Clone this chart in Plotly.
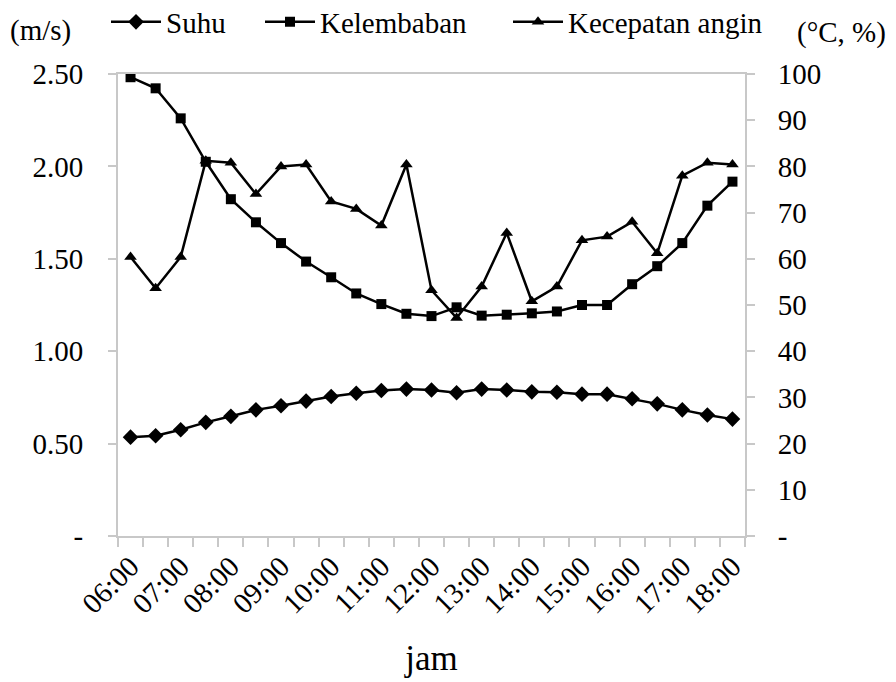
import plotly.graph_objects as go

times = ["06:00","06:30","07:00","07:30","08:00","08:30","09:00","09:30","10:00","10:30",
         "11:00","11:30","12:00","12:30","13:00","13:30","14:00","14:30","15:00","15:30",
         "16:00","16:30","17:00","17:30","18:00"]
suhu = [21.4,21.7,23.0,24.6,25.9,27.3,28.2,29.2,30.2,30.9,31.5,31.8,31.6,31.0,31.8,31.6,
        31.2,31.1,30.7,30.7,29.7,28.6,27.3,26.2,25.3]
kelembaban = [99.3,96.9,90.4,81.0,72.9,67.9,63.4,59.4,56.0,52.5,50.2,48.1,47.6,49.5,47.7,47.9,
              48.2,48.6,50.0,50.0,54.5,58.4,63.4,71.5,76.7]
angin = [1.51,1.34,1.51,2.03,2.02,1.85,2.00,2.01,1.81,1.77,1.68,2.01,1.33,1.18,1.35,1.64,
         1.27,1.35,1.60,1.62,1.70,1.53,1.95,2.02,2.01]
left_ticks = [0, 0.5, 1.0, 1.5, 2.0, 2.5]
left_labels = ["-", "0.50", "1.00", "1.50", "2.00", "2.50"]
right_ticks = [0, 10, 20, 30, 40, 50, 60, 70, 80, 90, 100]
right_labels = ["-", "10", "20", "30", "40", "50", "60", "70", "80", "90", "100"]
x_labels = [t if t.endswith(":00") else "" for t in times]

FONT = "Times New Roman, Liberation Serif, serif"
FS = 29
AX = "#c8c8c8"
W, H = 889, 673
L, R, T, B = 110, 152, 66, 145
PW, PH = W - L - R, H - T - B

fig = go.Figure()
fig.add_trace(go.Scatter(x=times, y=suhu, name="Suhu", yaxis="y2", mode="lines+markers",
                         legend="legend",
                         line=dict(color="black", width=2.5),
                         marker=dict(symbol="diamond", size=12, color="black")))
fig.add_trace(go.Scatter(x=times, y=kelembaban, name="Kelembaban", yaxis="y2", mode="lines+markers",
                         legend="legend2",
                         line=dict(color="black", width=2.5),
                         marker=dict(symbol="square", size=10, color="black")))
fig.add_trace(go.Scatter(x=times, y=angin, name="Kecepatan angin", yaxis="y", mode="lines+markers",
                         legend="legend3",
                         line=dict(color="black", width=2.5),
                         marker=dict(symbol="triangle-up", size=11, color="black")))

def leg(xpx):
    return dict(orientation="h", xref="container", yref="container",
                x=xpx / W, xanchor="left", y=1 - 14 / H, yanchor="middle", itemwidth=50,
                font=dict(family=FONT, size=FS), bgcolor="rgba(0,0,0,0)")

def px_x(x):
    return (x - L) / PW

def px_y(y):
    return (H - B - y) / PH

fig.update_layout(
    width=W, height=H,
    margin=dict(l=L, r=R, t=T, b=B),
    paper_bgcolor="white", plot_bgcolor="white",
    font=dict(family=FONT, size=FS, color="black"),
    showlegend=True,
    legend=leg(98), legend2=leg(252), legend3=leg(500),
    xaxis=dict(type="category", tickvals=times, ticktext=x_labels, tickangle=-45,
               tickson="boundaries", ticks="outside", ticklen=9, tickcolor=AX, tickwidth=2,
               showline=True, linecolor=AX, linewidth=2, mirror=True,
               showgrid=False, range=[-0.5, 24.5], automargin=False,
               title=dict(text="jam", standoff=27), tickfont=dict(size=FS)),
    yaxis=dict(range=[0, 2.5], tickvals=left_ticks, ticktext=left_labels,
               ticks="outside", ticklen=8, tickcolor=AX, tickwidth=2,
               showline=True, linecolor=AX, linewidth=2, automargin=False,
               ticklabelstandoff=19,
               showgrid=False, zeroline=False),
    yaxis2=dict(range=[0, 100], tickvals=right_ticks, ticktext=right_labels,
                overlaying="y", side="right", automargin=False,
                ticks="outside", ticklen=8, tickcolor=AX, tickwidth=2,
                showline=True, linecolor=AX, linewidth=2,
                ticklabelstandoff=17,
                showgrid=False, zeroline=False),
    annotations=[
        dict(text="(m/s)", xref="paper", yref="paper", x=px_x(0), y=px_y(23),
             xanchor="left", yanchor="middle", showarrow=False, font=dict(family=FONT, size=FS)),
        dict(text="(°C, %)", xref="paper", yref="paper", x=px_x(W - 9), y=px_y(24),
             xanchor="right", yanchor="middle", showarrow=False, font=dict(family=FONT, size=FS)),
    ],
)
fig.write_html("out.html")
